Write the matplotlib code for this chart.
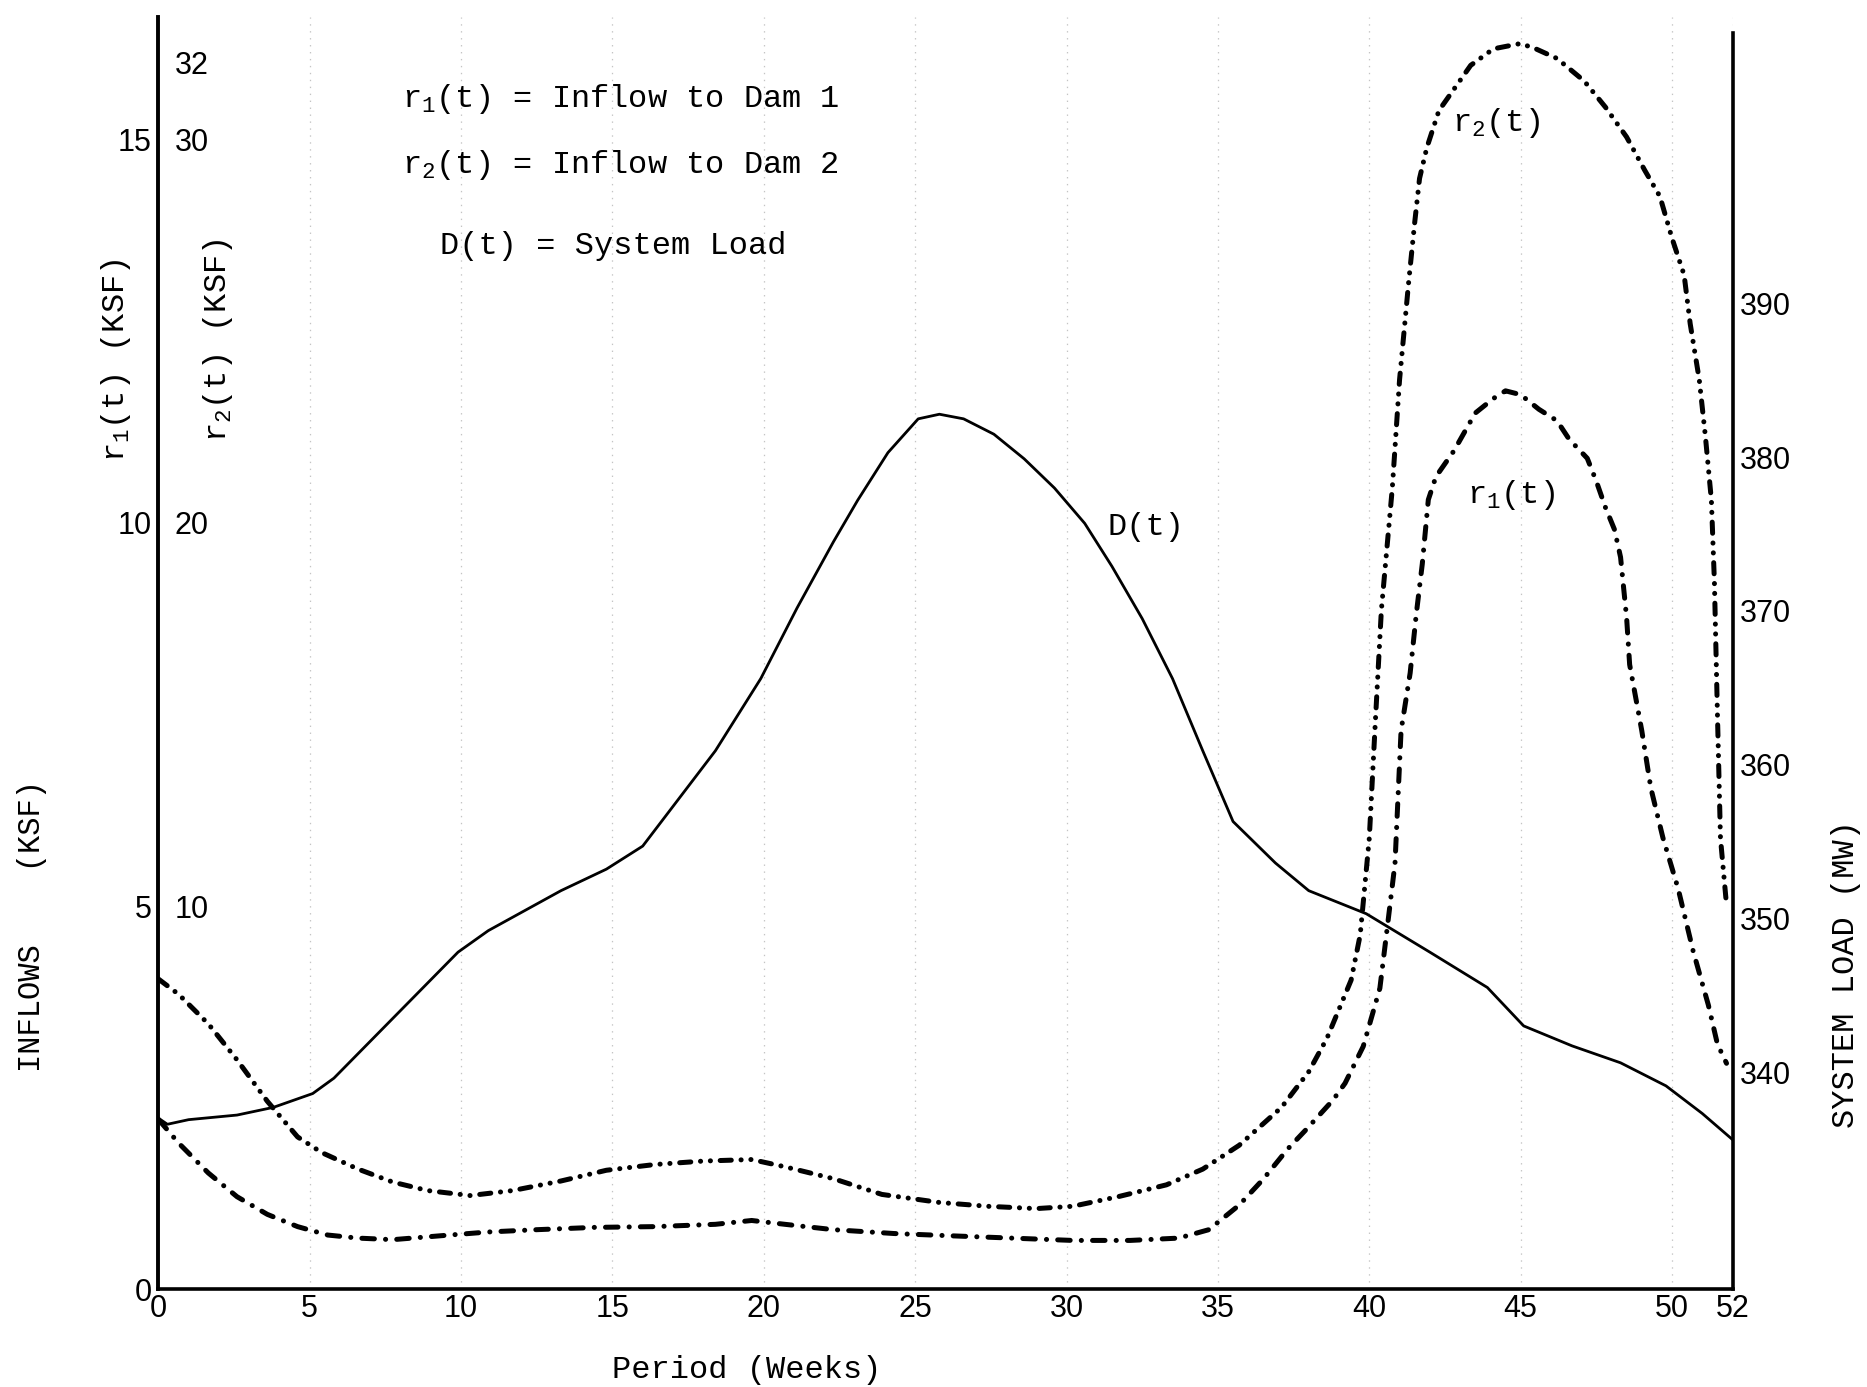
import matplotlib
matplotlib.use("Agg")
import matplotlib.pyplot as plt

# ---------------- data ----------------
weeks_D = [0, 0.3, 1, 2.6, 3.8, 5.1, 5.8, 6.6, 7.75, 8.9, 9.9, 10.9, 12.1, 13.3,
           14.8, 16.0, 17.2, 18.4, 19.9, 21.1, 22.3, 23.1, 24.1, 25.1, 25.8, 26.6,
           27.6, 28.6, 29.6, 30.6, 31.5, 32.5, 33.5, 34.5, 35.5, 36.9, 38.0, 39.9,
           42.0, 43.9, 45.1, 46.7, 48.3, 49.8, 51.0, 52.0]
load_D = [337.0, 336.6, 336.9, 337.2, 337.7, 338.6, 339.6, 341.2, 343.5, 345.8,
          347.8, 349.2, 350.5, 351.8, 353.2, 354.7, 357.8, 360.9, 365.6, 370.2,
          374.5, 377.2, 380.3, 382.5, 382.8, 382.5, 381.5, 379.9, 378.0, 375.7,
          372.9, 369.5, 365.6, 360.9, 356.3, 353.6, 351.8, 350.3, 347.8, 345.5,
          343.0, 341.7, 340.6, 339.1, 337.3, 335.6]

weeks_r1 = [0, 0.67, 1.65, 2.6, 3.6, 4.6, 5.6, 6.6, 7.75, 9.3, 10.9, 12.5, 14.4,
            16.4, 18.4, 19.6, 20.7, 22.3, 24.3, 26.2, 28.2, 30.2, 32.1, 33.7, 34.7,
            35.7, 36.5, 37.3, 37.9, 38.8, 39.2, 39.8, 40.35, 40.6, 40.85, 40.95,
            41.05, 41.35, 41.55, 41.75, 41.95, 42.2, 42.8, 43.5, 44.1, 44.5, 45.0,
            45.6, 46.2, 46.6, 47.2, 47.5, 47.8, 48.1, 48.3, 48.5, 48.6, 49.0, 49.3,
            49.7, 50.2, 50.7, 51.2, 51.5, 51.8]
inflow_r1 = [2.22, 1.91, 1.52, 1.21, 0.98, 0.82, 0.71, 0.67, 0.65, 0.70, 0.75, 0.78,
             0.81, 0.82, 0.85, 0.90, 0.85, 0.78, 0.73, 0.70, 0.67, 0.64, 0.64, 0.67,
             0.78, 1.10, 1.44, 1.83, 2.08, 2.47, 2.69, 3.17, 3.93, 4.74, 5.56, 6.43,
             7.29, 8.04, 8.80, 9.46, 10.30, 10.60, 10.94, 11.43, 11.62, 11.72, 11.67,
             11.48, 11.33, 11.09, 10.84, 10.54, 10.20, 9.91, 9.55, 8.76, 8.15, 7.29,
             6.54, 5.89, 5.23, 4.41, 3.71, 3.20, 2.95]

weeks_r2 = [0, 0.67, 1.65, 2.6, 3.6, 4.6, 5.4, 6.6, 7.75, 8.9, 10.3, 11.7, 13.3,
            14.8, 16.4, 18.0, 19.6, 20.7, 22.3, 23.9, 25.8, 27.4, 29.0, 30.2, 31.7,
            33.3, 34.5, 35.7, 37.1, 38.0, 38.6, 39.4, 39.7, 40.0, 40.2, 40.4, 40.76,
            41.0, 41.3, 41.5, 41.66, 41.9, 42.3, 43.35, 44.1, 45.0, 45.5, 46.2, 47.1,
            47.8, 48.5, 49.1, 49.6, 50.0, 50.4, 50.6, 50.9, 51.1, 51.3, 51.4, 51.5,
            51.6, 51.8]
inflow_r2 = [8.10, 7.70, 6.93, 5.99, 4.91, 3.98, 3.57, 3.14, 2.80, 2.58, 2.45, 2.58,
             2.83, 3.11, 3.26, 3.35, 3.39, 3.20, 2.89, 2.48, 2.27, 2.17, 2.11, 2.17,
             2.42, 2.73, 3.14, 3.76, 4.75, 5.68, 6.55, 8.07, 9.25, 11.77, 14.81, 17.73,
             20.90, 23.73, 26.27, 27.83, 28.98, 29.78, 30.75, 31.93, 32.36, 32.50,
             32.36, 32.11, 31.52, 30.84, 30.06, 29.19, 28.51, 27.42, 26.46, 25.19,
             23.73, 22.27, 20.59, 18.45, 15.0, 11.77, 10.03]

x_ticks = [0, 5, 10, 15, 20, 25, 30, 35, 40, 45, 50, 52]
r1_ticks = [0, 5, 10, 15]
r2_ticks = [10, 20, 30, 32]
load_ticks = [340, 350, 360, 370, 380, 390]

# ---------------- style ----------------
plt.rcParams['font.family'] = ['Liberation Mono', 'DejaVu Sans']
plt.rcParams['mathtext.fontset'] = 'custom'
plt.rcParams['mathtext.rm'] = 'Liberation Mono'
plt.rcParams['mathtext.it'] = 'Liberation Mono'
plt.rcParams['lines.scale_dashes'] = False

TXT = 23
TICK = 22
tickfont = 'Liberation Sans'

fig = plt.figure(figsize=(18.67, 13.87), dpi=100)
ax = fig.add_axes([0.0848, 0.0703, 0.8432, 0.9177])
ax2 = ax.twinx()
ax3 = ax.twinx()

r1_top = 16.6
ax.set_xlim(0, 52)
ax.set_ylim(0, r1_top)
ax2.set_ylim(0, 2 * r1_top)
ax3.set_ylim(325.85, 408.67)

# faint paper grid lines
ax.grid(axis='x', color='#c4c4c4', lw=0.9, ls=(0, (1, 4)))
ax.set_axisbelow(True)

# curves
ax3.plot(weeks_D, load_D, color='black', lw=2.0, solid_capstyle='round',
         solid_joinstyle='round')
l1, = ax.plot(weeks_r1, inflow_r1, color='black', lw=3.6,
              dash_capstyle='round', solid_capstyle='round')
l1.set_dashes((9, 8, 0.1, 8))
l2, = ax2.plot(weeks_r2, inflow_r2, color='black', lw=3.6,
               dash_capstyle='round', solid_capstyle='round')
l2.set_dashes((8, 7, 0.1, 7, 0.1, 7))

# spines
for a in (ax, ax2, ax3):
    a.spines['top'].set_visible(False)
ax.spines['right'].set_visible(False)
ax2.spines['right'].set_visible(False)
ax2.spines['left'].set_visible(False)
ax2.spines['bottom'].set_visible(False)
ax3.spines['left'].set_visible(False)
ax3.spines['bottom'].set_visible(False)
ax.spines['left'].set_linewidth(2.8)
ax.spines['bottom'].set_linewidth(2.6)
ax3.spines['right'].set_linewidth(2.6)
ax3.spines['right'].set_bounds(325.85, 407.6)

# x axis
ax.set_xticks(x_ticks)
ax.set_xticklabels([str(v) for v in x_ticks])
ax.tick_params(axis='x', length=0, pad=3, labelsize=TICK)
plt.setp(ax.get_xticklabels(), family=tickfont)

# r1 axis (left, outside)
ax.set_yticks(r1_ticks)
ax.set_yticklabels([str(v) for v in r1_ticks])
ax.tick_params(axis='y', length=0, pad=5, labelsize=TICK)
plt.setp(ax.get_yticklabels(), family=tickfont)

# r2 axis (left, labels inside)
ax2.yaxis.tick_left()
ax2.set_yticks(r2_ticks)
ax2.set_yticklabels([str(v) for v in r2_ticks])
ax2.tick_params(axis='y', length=0, pad=-12, labelsize=TICK)
for lab in ax2.get_yticklabels():
    lab.set_horizontalalignment('left')
    lab.set_family(tickfont)

# load axis (right)
ax3.set_yticks(load_ticks)
ax3.set_yticklabels([str(v) for v in load_ticks])
ax3.tick_params(axis='y', length=0, pad=5, labelsize=TICK)
plt.setp(ax3.get_yticklabels(), family=tickfont)

# axis labels
ax.set_xlabel('Period (Weeks)', fontsize=TXT, va='center')
ax.xaxis.set_label_coords(0.374, -0.063)
ax.text(-0.0272, 0.7297, 'r$_1$(t) (KSF)', transform=ax.transAxes, rotation=90,
        ha='center', va='center', fontsize=TXT)
ax.text(0.0378, 0.7456, 'r$_2$(t) (KSF)', transform=ax.transAxes, rotation=90,
        ha='center', va='center', fontsize=TXT)
ax.text(-0.0802, 0.2853, 'INFLOWS    (KSF)', transform=ax.transAxes, rotation=90,
        ha='center', va='center', fontsize=TXT - 1)
ax.text(1.0719, 0.2479, 'SYSTEM LOAD (MW)', transform=ax.transAxes, rotation=90,
        ha='center', va='center', fontsize=TXT)

# key text
ax.text(0.155, 0.9289, 'r$_1$(t) = Inflow to Dam 1', transform=ax.transAxes,
        ha='left', va='baseline', fontsize=TXT)
ax.text(0.155, 0.8775, 'r$_2$(t) = Inflow to Dam 2', transform=ax.transAxes,
        ha='left', va='baseline', fontsize=TXT)
ax.text(0.179, 0.8138, 'D(t) = System Load', transform=ax.transAxes,
        ha='left', va='baseline', fontsize=TXT)

# curve labels
ax.text(0.822, 0.910, 'r$_2$(t)', transform=ax.transAxes, ha='left',
        va='baseline', fontsize=TXT)
ax.text(0.831, 0.618, 'r$_1$(t)', transform=ax.transAxes, ha='left',
        va='baseline', fontsize=TXT)
ax.text(0.603, 0.593, 'D(t)', transform=ax.transAxes, ha='left',
        va='baseline', fontsize=TXT)

fig.savefig('out.png', dpi=100)
